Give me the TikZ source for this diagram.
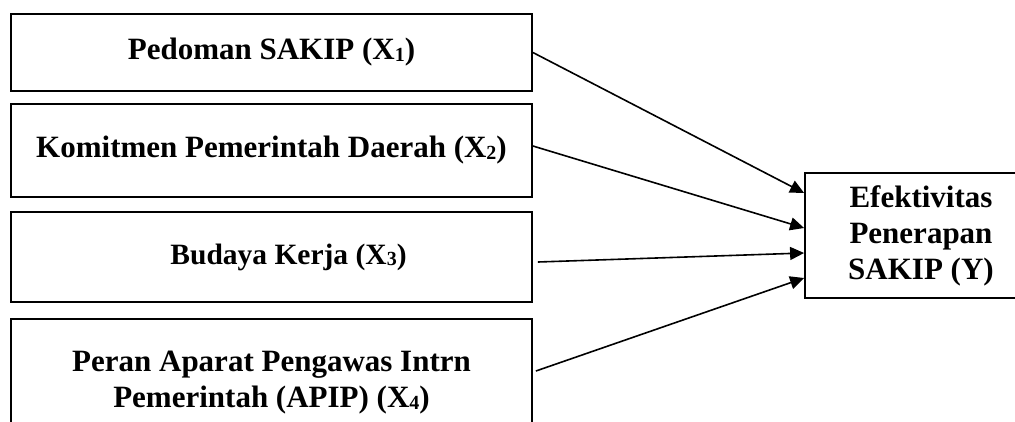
\documentclass[tikz,border=0pt]{standalone}
\usepackage{fontspec}
\setmainfont{Liberation Serif}
\usetikzlibrary{arrows.meta}
\newcommand{\vsub}[1]{\raisebox{-1.5pt}{\fontsize{20}{20}\selectfont #1}}
\begin{document}
\begin{tikzpicture}[x=1pt,y=-1pt]
    \tikzstyle{var}=[draw,line width=1.8pt,rectangle,align=center,inner sep=0pt,font=\bfseries\fontsize{31}{36}\selectfont]
    \tikzstyle{arrow}=[draw,line width=1.6pt,-{Triangle[length=14pt,width=13pt]},black]
    \clip (0,0) rectangle (1015,421);
    \node[var,minimum width=521pt,minimum height=77pt] (x1) at (271.5,52.5) {Pedoman SAKIP (X\vsub{1})};
    \node[var,minimum width=521pt,minimum height=93pt] (x2) at (271.5,150.5) {Komitmen Pemerintah Daerah (X\vsub{2})};
    \node[var,minimum width=521pt,minimum height=90pt,font=\bfseries\fontsize{29.5}{34}\selectfont] (x3) at (271.5,257) {\hspace{34pt}Budaya Kerja (X\vsub{3})};
    \node[var,minimum width=521pt,minimum height=128pt] (x4) at (271.5,383) {Peran Aparat Pengawas Intrn\\Pemerintah (APIP) (X\vsub{4})};
    \node[var,minimum width=232pt,minimum height=125pt] (y) at (921,235.5) {Efektivitas\\Penerapan\\SAKIP (Y)};
    \draw[arrow] (x1.east) -- ([yshift=42.5pt]y.west);
    \draw[arrow] ([yshift=4.5pt]x2.east) -- ([yshift=7.5pt]y.west);
    \draw[arrow] ([xshift=5pt,yshift=-5pt]x3.east) -- ([yshift=-17.5pt]y.west);
    \draw[arrow] ([xshift=3pt,yshift=12pt]x4.east) -- ([yshift=-42.5pt]y.west);
\end{tikzpicture}
\end{document}
